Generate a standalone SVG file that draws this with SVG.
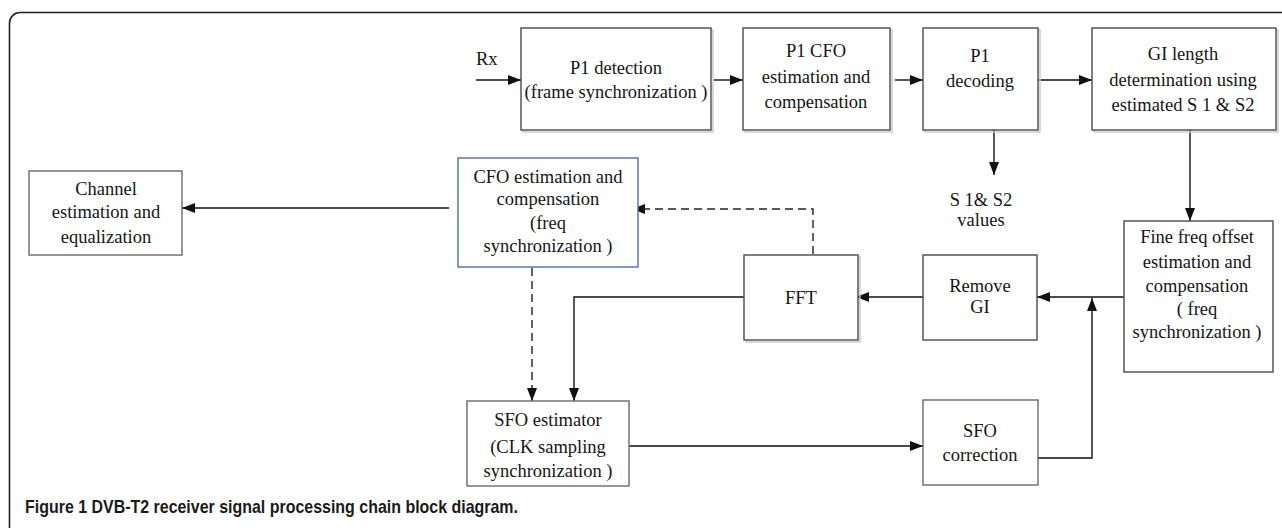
<svg xmlns="http://www.w3.org/2000/svg" width="1282" height="528" viewBox="0 0 1282 528">
  <style>
    .bg { fill: #ffffff; }
    .frame { fill: none; stroke: #222222; stroke-width: 1.6; }
    .box { fill: #ffffff; stroke: #4a4a4a; stroke-width: 1.4; }
    .box-light { fill: #ffffff; stroke: #6a6a6a; stroke-width: 1.4; }
    .box-blue { fill: #ffffff; stroke: #4f6fa3; stroke-width: 1.4; }
    .shadow { fill: none; stroke: #c8c8c8; stroke-width: 1.4; }
    .lbl { font-family: "Liberation Serif", "Times New Roman", serif; font-size: 18.5px; fill: #151515; text-anchor: middle; }
    .lbl-left { font-family: "Liberation Serif", "Times New Roman", serif; font-size: 18.5px; fill: #151515; }
    .wire { fill: none; stroke: #111111; stroke-width: 1.4; }
    .dash { fill: none; stroke: #222222; stroke-width: 1.4; stroke-dasharray: 8 5; }
    .caption { font-family: "Liberation Sans", Arial, sans-serif; font-size: 18.5px; font-weight: bold; fill: #1a1a1a; }
  </style>
  <defs>
    <marker id="arrow" markerUnits="userSpaceOnUse" markerWidth="14" markerHeight="10" refX="13" refY="5" orient="auto">
      <path d="M0,0 L13,5 L0,10 z" fill="#111111"/>
    </marker>
  </defs>

  <rect class="bg" x="0" y="0" width="1282" height="528"/>

  <!-- outer figure frame, open towards the right and bottom -->
  <path class="frame" d="M9.5,528 V23 A10.5,10.5 0 0 1 20,12.5 H1282"/>

  <!-- connectors -->
  <g id="connectors">
    <path class="wire" d="M476,80 H521" marker-end="url(#arrow)"/>
    <path class="wire" d="M714,80 H743" marker-end="url(#arrow)"/>
    <path class="wire" d="M895,80 H923" marker-end="url(#arrow)"/>
    <path class="wire" d="M1033,80 H1092" marker-end="url(#arrow)"/>
    <path class="wire" d="M994,127 V175" marker-end="url(#arrow)"/>
    <path class="wire" d="M1190,127 V221" marker-end="url(#arrow)"/>
    <path class="wire" d="M1132,297 H1037" marker-end="url(#arrow)"/>
    <path class="wire" d="M1038,458 H1092 V298" marker-end="url(#arrow)"/>
    <path class="wire" d="M926,297 H856" marker-end="url(#arrow)"/>
    <path class="wire" d="M750,297 H574 V401" marker-end="url(#arrow)"/>
    <path class="dash" d="M813,254 V209 H632" marker-end="url(#arrow)"/>
    <path class="dash" d="M532,268 V401" marker-end="url(#arrow)"/>
    <path class="wire" d="M449,208 H182" marker-end="url(#arrow)"/>
    <path class="wire" d="M629,446 H923" marker-end="url(#arrow)"/>
  </g>

  <text class="lbl-left" x="476" y="65">Rx</text>

  <g id="p1-detection">
    <rect class="shadow" x="523" y="30" width="190" height="102"/>
    <rect class="box" x="521" y="28" width="190" height="102"/>
    <text class="lbl" x="616" y="74">P1 detection</text>
    <text class="lbl" x="616" y="98">(frame synchronization )</text>
  </g>

  <g id="p1-cfo">
    <rect class="shadow" x="745" y="30" width="147" height="102"/>
    <rect class="box" x="743" y="28" width="147" height="102"/>
    <text class="lbl" x="816" y="57">P1 CFO</text>
    <text class="lbl" x="816" y="83">estimation  and</text>
    <text class="lbl" x="816" y="108">compensation</text>
  </g>

  <g id="p1-decoding">
    <rect class="shadow" x="925" y="30" width="115" height="102"/>
    <rect class="box" x="923" y="28" width="115" height="102"/>
    <text class="lbl" x="980" y="62">P1</text>
    <text class="lbl" x="980" y="87">decoding</text>
  </g>

  <g id="gi-length">
    <rect class="shadow" x="1094" y="30" width="184" height="102"/>
    <rect class="box" x="1092" y="28" width="184" height="102"/>
    <text class="lbl" x="1183" y="60">GI length</text>
    <text class="lbl" x="1183" y="86">determination  using</text>
    <text class="lbl" x="1183" y="111">estimated S 1 &amp; S2</text>
  </g>

  <g id="s1-s2-values">
    <text class="lbl" x="981" y="206">S 1&amp; S2</text>
    <text class="lbl" x="981" y="226">values</text>
  </g>

  <g id="fine-freq">
    <rect class="box" x="1124" y="221" width="149" height="151"/>
    <text class="lbl" x="1197" y="243">Fine freq offset</text>
    <text class="lbl" x="1197" y="268">estimation and</text>
    <text class="lbl" x="1197" y="292">compensation</text>
    <text class="lbl" x="1197" y="315">( freq</text>
    <text class="lbl" x="1197" y="338">synchronization )</text>
  </g>

  <g id="remove-gi">
    <rect class="box" x="923" y="255" width="114" height="85"/>
    <text class="lbl" x="980" y="292">Remove</text>
    <text class="lbl" x="980" y="313">GI</text>
  </g>

  <g id="fft">
    <rect class="shadow" x="746" y="257" width="114" height="85"/>
    <rect class="box" x="744" y="255" width="114" height="85"/>
    <text class="lbl" x="801" y="304">FFT</text>
  </g>

  <g id="cfo-estimation">
    <rect class="box-blue" x="458" y="158" width="180" height="109"/>
    <text class="lbl" x="548" y="183">CFO estimation and</text>
    <text class="lbl" x="548" y="205">compensation</text>
    <text class="lbl" x="548" y="229">(freq</text>
    <text class="lbl" x="548" y="252">synchronization )</text>
  </g>

  <g id="channel-estimation">
    <rect class="box-light" x="29" y="171" width="153" height="84"/>
    <text class="lbl" x="106" y="195">Channel</text>
    <text class="lbl" x="106" y="218">estimation and</text>
    <text class="lbl" x="106" y="243">equalization</text>
  </g>

  <g id="sfo-estimator">
    <rect class="box-light" x="467" y="401" width="162" height="85"/>
    <text class="lbl" x="548" y="426">SFO estimator</text>
    <text class="lbl" x="548" y="453">(CLK sampling</text>
    <text class="lbl" x="548" y="477">synchronization )</text>
  </g>

  <g id="sfo-correction">
    <rect class="box-light" x="923" y="400" width="115" height="85"/>
    <text class="lbl" x="980" y="437">SFO</text>
    <text class="lbl" x="980" y="461">correction</text>
  </g>

  <text class="caption" x="25" y="513" textLength="493" lengthAdjust="spacingAndGlyphs">Figure 1 DVB-T2 receiver signal processing chain block diagram.</text>
</svg>
